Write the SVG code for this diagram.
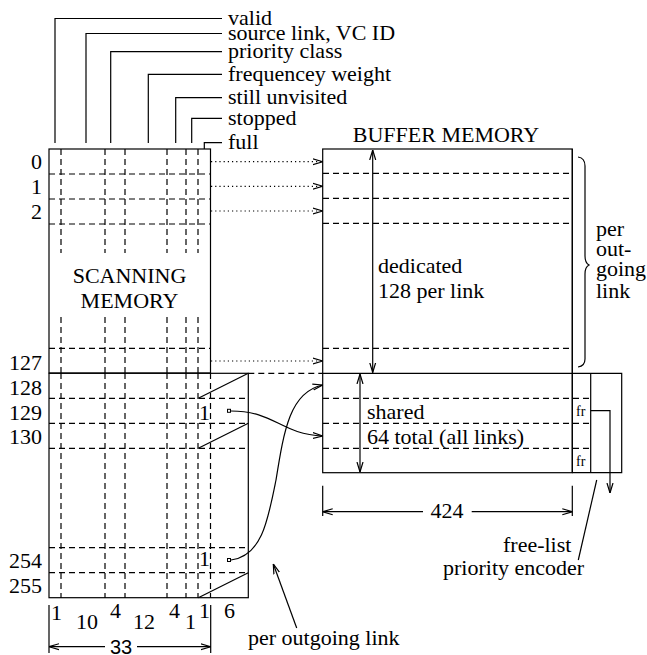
<svg xmlns="http://www.w3.org/2000/svg" width="647" height="655" viewBox="0 0 647 655">
<style>
text{font-family:"Liberation Serif","Times New Roman",serif;font-size:22px;fill:#000}
.s{fill:none;stroke:#000;stroke-width:1.2}
.d{fill:none;stroke:#000;stroke-width:1.2;stroke-dasharray:6 4}
.o{fill:none;stroke:#000;stroke-width:1.2;stroke-dasharray:1.2 3}
.r{text-anchor:end}
.m{text-anchor:middle}
.fr{font-size:14px}
.sans{font-family:"Liberation Sans",Arial,sans-serif;font-size:20px}
</style>
<defs>
<marker id="ah" viewBox="0 0 10 8" refX="10" refY="4" markerWidth="10" markerHeight="8" orient="auto-start-reverse" markerUnits="userSpaceOnUse">
<path d="M0,1 L10,4 L0,7" fill="none" stroke="#000" stroke-width="1.2"/>
</marker>
</defs>
<rect width="647" height="655" fill="#fff"/>

<g id="field-labels">
<path class="s" d="M55,143 V18.5 H222 M86,143 V33.5 H222 M110.7,143 V51.7 H222 M148.3,143 V74.3 H222 M175.7,143 V97.7 H222 M191.7,143 V118.3 H222 M204.3,149 V142.7 H222"/>
<text x="228" y="24.6">valid</text>
<text x="228" y="39.6">source link, VC ID</text>
<text x="228" y="58">priority class</text>
<text x="228" y="80.6">frequencey weight</text>
<text x="228" y="104">still unvisited</text>
<text x="228" y="124.6">stopped</text>
<text x="228" y="149">full</text>
</g>

<g id="scanning-memory">
<rect class="s" x="49" y="149" width="161.5" height="224"/>
<path class="d" d="M49,174 H210.5 M49,199 H210.5 M49,224 H210.5 M49,348.3 H210.5"/>
<path class="d" d="M61,149 V253 M105,149 V253 M125,149 V253 M167,149 V253 M186,149 V253 M198,149 V253 M61,317 V373 M105,317 V373 M125,317 V373 M167,317 V373 M186,317 V373 M198,317 V373"/>
<text class="m" x="129.5" y="283.3">SCANNING</text>
<text class="m" x="129.5" y="308.3">MEMORY</text>
<text class="r" x="42" y="169">0</text>
<text class="r" x="42" y="194">1</text>
<text class="r" x="42" y="219">2</text>
<text class="r" x="42" y="370">127</text>
</g>

<g id="per-link-memory">
<rect class="s" x="49" y="373.3" width="199.3" height="224.4"/>
<path class="d" d="M49,398.3 H248 M49,423.3 H248 M49,448.3 H248 M49,547.7 H248 M49,572.7 H248"/>
<path class="d" d="M61,373 V598 M105,373 V598 M125,373 V598 M167,373 V598 M186,373 V598 M198,373 V598 M210.5,373 V598"/>
<path class="s" d="M198.3,398.3 L248.3,373.3 M198.3,448.3 L248.3,423.3 M198.3,597.7 L248.3,572.7"/>
<text x="199" y="420">1</text>
<text x="199" y="566">1</text>
<rect x="227.5" y="409.3" width="3" height="3" fill="none" stroke="#000" stroke-width="1"/>
<rect x="227.5" y="558.5" width="3" height="3" fill="none" stroke="#000" stroke-width="1"/>
<text class="r" x="42" y="395">128</text>
<text class="r" x="42" y="420">129</text>
<text class="r" x="42" y="444.3">130</text>
<text class="r" x="42" y="568.3">254</text>
<text class="r" x="42" y="593.3">255</text>
</g>

<g id="bit-widths">
<text x="51" y="620">1</text>
<text x="76" y="629">10</text>
<text x="110" y="618">4</text>
<text x="133" y="629">12</text>
<text x="169" y="618">4</text>
<text x="185" y="629">1</text>
<text x="199" y="618">1</text>
<text x="224" y="618">6</text>
<path class="s" d="M49,605 V653 M210.7,605 V653"/>
<path class="s" d="M105,646.7 H49" marker-end="url(#ah)"/>
<path class="s" d="M137,646.7 H210.7" marker-end="url(#ah)"/>
<text class="m sans" x="121" y="654">33</text>
</g>

<g id="buffer-memory">
<rect class="s" x="322.7" y="149" width="249.6" height="323.7"/>
<path class="s" d="M322.7,373.3 H621.7 V472.7 H572.3 M590.7,373.3 V472.7"/>
<path class="s" d="M572.3,149 V472.7" stroke-width="2"/>
<path class="d" d="M323,173.3 H572 M323,198.3 H572 M323,223.3 H572 M323,348.3 H572 M323,398.3 H589 M323,423.3 H589 M323,448.3 H589"/>
<text class="m" x="446" y="142">BUFFER MEMORY</text>
<text x="378" y="273">dedicated</text>
<text x="378" y="298">128 per link</text>
<text x="367" y="419">shared</text>
<text x="367" y="444">64 total (all links)</text>
<text class="fr" x="576" y="416">fr</text>
<text class="fr" x="576" y="466">fr</text>
<path class="s" d="M578,157 Q585,158 585,166 V256 Q585,263 589,265 Q585,267 585,274 V359 Q585,366 578,367"/>
<text x="596" y="236">per</text>
<text x="596" y="256">out-</text>
<text x="596" y="276">going</text>
<text x="596" y="298">link</text>
<path class="s" d="M322.7,485.7 V516 M572.3,485.7 V516"/>
<path class="s" d="M423,511.7 H322.7" marker-end="url(#ah)"/>
<path class="s" d="M471.7,511.7 H572.3" marker-end="url(#ah)"/>
<text class="m" x="447" y="518">424</text>
<text x="503" y="552">free-list</text>
<text x="443" y="575">priority encoder</text>
</g>

<g id="connectors">
<path class="o" d="M211,161.7 H322.7" marker-end="url(#ah)"/>
<path class="o" d="M211,186.3 H322.7" marker-end="url(#ah)"/>
<path class="o" d="M211,211 H322.7" marker-end="url(#ah)"/>
<path class="o" d="M211,361 H322.7" marker-end="url(#ah)"/>
<path class="d" d="M248.3,373.3 H322.7"/>
<path class="s" d="M372.7,150 V372.5" marker-start="url(#ah)" marker-end="url(#ah)"/>
<path class="s" d="M360,374 V472" marker-start="url(#ah)" marker-end="url(#ah)"/>
<path class="s" d="M231,411 C275,411 280,434 322.7,436" marker-end="url(#ah)"/>
<path class="s" d="M231,560 C262,556 268,520 276,480 C284,430 290,392 322.7,385" marker-end="url(#ah)"/>
<path class="s" d="M590.7,410.7 H610 V493" marker-end="url(#ah)"/>
<path class="s" d="M596.7,480 L578.3,560"/>
<path class="s" d="M296.7,628 L273.3,564" marker-end="url(#ah)"/>
<text x="248" y="645">per outgoing link</text>
</g>
</svg>
